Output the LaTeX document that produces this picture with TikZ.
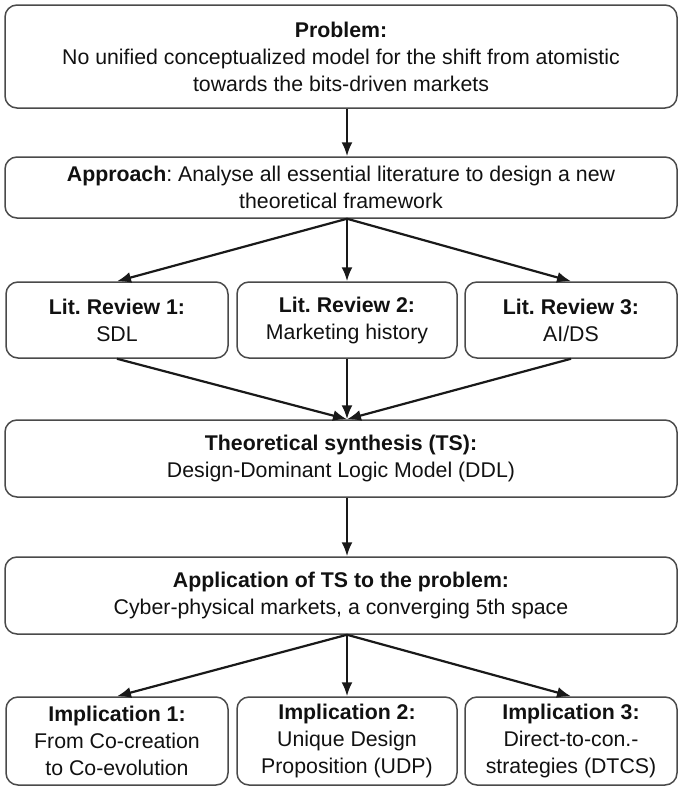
\documentclass[tikz,border=0pt]{standalone}
\usepackage{fontspec}
\setmainfont{Liberation Sans}
\usetikzlibrary{arrows.meta,calc}
\definecolor{boxline}{HTML}{4A4A4A}
\definecolor{txt}{HTML}{111111}
\frenchspacing
\begin{document}
\begin{tikzpicture}[x=1pt,y=-1pt,
  box/.style={draw=boxline,line width=1.5pt,rounded corners=12pt,inner sep=0pt,
    align=center,text=txt,font=\fontsize{21.3}{27}\selectfont},
  conn/.style={line width=2.2pt,draw=black!90,-{Latex[length=14pt,width=11pt]}}]
\useasboundingbox (0,0) rectangle (679,787);
\node[box,minimum width=672pt,minimum height=103pt] (prob) at (341,56.5)
  {\textbf{Problem:}\\No unified conceptualized model for the shift from atomistic\\towards the bits-driven markets};
\node[box,minimum width=672pt,minimum height=61pt] (appr) at (341,187.5)
  {\textbf{Approach}: Analyse all essential literature to design a new\\theoretical framework};
\node[box,minimum width=222pt,minimum height=76pt] (lit1) at (117,320)
  {\textbf{Lit. Review 1:}\\SDL};
\node[box,minimum width=220pt,minimum height=76pt] (lit2) at (347,320)
  {\textbf{Lit. Review 2:}\\Marketing history};
\node[box,minimum width=212pt,minimum height=76pt] (lit3) at (571,320)
  {\textbf{Lit. Review 3:}\\AI/DS};
\node[box,minimum width=672pt,minimum height=77pt] (ts) at (341,458.5)
  {\textbf{Theoretical synthesis (TS):}\\Design-Dominant Logic Model (DDL)};
\node[box,minimum width=672pt,minimum height=77pt] (app) at (341,595.5)
  {\textbf{Application of TS to the problem:}\\Cyber-physical markets, a converging 5th space};
\node[box,minimum width=222pt,minimum height=88pt] (imp1) at (117,741)
  {\textbf{Implication 1:}\\From Co-creation\\to Co-evolution};
\node[box,minimum width=220pt,minimum height=88pt] (imp2) at (347,741)
  {\textbf{Implication 2:}\\Unique Design\\Proposition (UDP)};
\node[box,minimum width=212pt,minimum height=88pt] (imp3) at (571,741)
  {\textbf{Implication 3:}\\Direct-to-con.-\\strategies (DTCS)};
\draw[conn] (prob.south -| lit2.north) -- (appr.north -| lit2.north);
\draw[conn] (appr.south -| lit2.north) -- (lit1.north);
\draw[conn] (appr.south -| lit2.north) -- (lit2.north);
\draw[conn] (appr.south -| lit2.north) -- (lit3.north);
\draw[conn] (lit1.south) -- (ts.north -| lit2.south);
\draw[conn] (lit2.south) -- (ts.north -| lit2.south);
\draw[conn] (lit3.south) -- (ts.north -| lit2.south);
\draw[conn] (ts.south -| lit2.south) -- (app.north -| lit2.south);
\draw[conn] (app.south -| imp2.north) -- (imp1.north);
\draw[conn] (app.south -| imp2.north) -- (imp2.north);
\draw[conn] (app.south -| imp2.north) -- (imp3.north);
\end{tikzpicture}
\end{document}
